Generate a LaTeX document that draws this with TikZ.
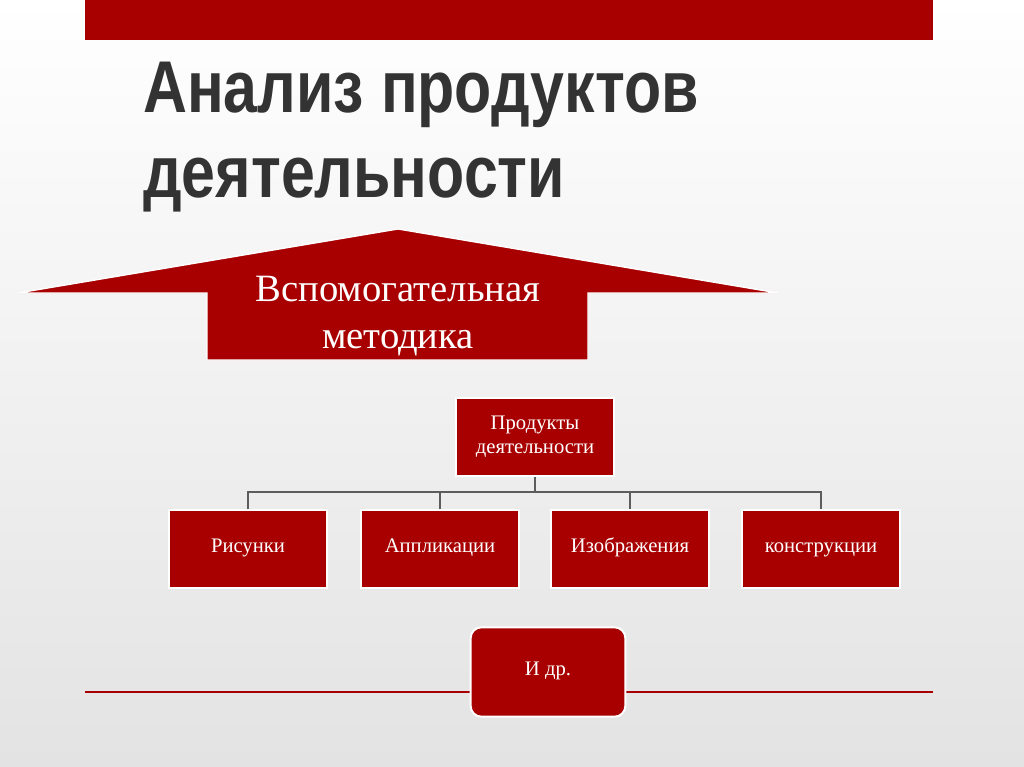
\documentclass[tikz,border=0pt]{standalone}
\usepackage{fontspec}
\setmainfont{Liberation Serif}
\newfontfamily\titlefont{Liberation Sans}
\definecolor{dred}{HTML}{A80000}
\definecolor{tgray}{HTML}{333333}
\begin{document}
\begin{tikzpicture}[x=0.75pt,y=-0.75pt,
  rbox/.style={draw=white,line width=1.5pt,fill=dred,text=white,minimum width=118pt,minimum height=58pt,inner sep=0pt,align=center,font=\fontsize{15.5}{18}\selectfont},
  sbox/.style={rbox,text height=1.6ex,text depth=0.3ex},
  conn/.style={draw=tgray!80,line width=0.9pt}]
\shade[top color=white,bottom color=gray!22] (0,0) rectangle (1024,767);
\useasboundingbox (0,0) rectangle (1024,767);
\fill[dred] (85,0) rectangle (933,40);
\node[anchor=base west,text=tgray,inner sep=0pt] (t1) at (143,113) {\scalebox{0.83}[1]{\titlefont\bfseries\fontsize{55}{60}\selectfont Анализ продуктов}};
\node[anchor=base west,text=tgray,inner sep=0pt] (t2) at (143,197) {\scalebox{0.83}[1]{\titlefont\bfseries\fontsize{55}{60}\selectfont деятельности}};
\draw[fill=dred,draw=white,line width=1pt] (18,293)--(398,229)--(778,293)--(588,293)--(588,360)--(207,360)--(207,293)--cycle;
\node[text=white,align=center,font=\fontsize{29}{35}\selectfont] (m) at (398,316) {Вспомогательная\\методика};
\node[rbox] (p) at (535,437) {Продукты\\деятельности};
\node[sbox] (a) at (248,549) {Рисунки};
\node[sbox] (b) at (440,549) {Аппликации};
\node[sbox] (c) at (630,549) {Изображения};
\node[sbox] (d) at (821,549) {конструкции};
\coordinate (j) at (535,492);
\draw[conn] (p.south) -- (j);
\draw[conn] (a.north) |- (j);
\draw[conn] (d.north) |- (j);
\draw[conn] (b.north) -- (b.north|-j);
\draw[conn] (c.north) -- (c.north|-j);
\draw[dred,line width=2.2pt] (85,692) -- (933,692);
\node[draw=white,line width=1.5pt,fill=dred,text=white,rounded corners=8pt,minimum width=116pt,minimum height=67pt,text height=1.6ex,text depth=0.3ex,font=\fontsize{15.5}{18}\selectfont] (e) at (548,672) {И др.};
\end{tikzpicture}
\end{document}
